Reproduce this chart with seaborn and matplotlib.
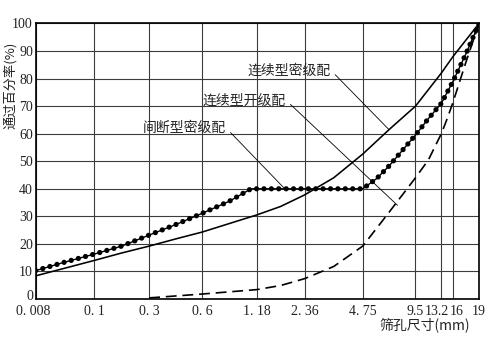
import numpy as np
import pandas as pd
import matplotlib
matplotlib.use("Agg")
import matplotlib.pyplot as plt
import matplotlib.transforms as mtransforms
import seaborn as sns

# Sieve sizes (mm) marked on the horizontal axis and their labels
sieve_sizes = [0.008, 0.1, 0.3, 0.6, 1.18, 2.36, 4.75, 9.5, 13.2, 16, 19]
sieve_labels = ["0. 008", "0. 1", "0. 3", "0. 6", "1. 18", "2. 36",
                "4. 75", "9.5", "13.2", "16", "19"]
pass_ticks = list(range(0, 101, 10))

# Continuous dense gradation (solid)
dense_size = [0.008, 0.0283, 0.1, 0.173, 0.3, 0.424, 0.6, 0.841, 1.18, 1.669,
              2.36, 3.348, 4.75, 6.717, 9.5, 11.2, 13.2, 14.53, 16, 17.43, 19]
dense_pass = [8.4, 11.2, 14.0, 16.7, 19.2, 21.8, 24.3, 27.4, 30.5, 33.6,
              37.8, 44.0, 52.6, 61.5, 70.0, 76.0, 82.0, 85.0, 88.0, 94.0, 100]

# Gap dense gradation (beaded line)
gap_size = [0.008, 0.0283, 0.1, 0.173, 0.3, 0.424, 0.6, 0.841, 1.1, 1.18,
            1.669, 2.36, 3.348, 4.75, 5.7, 6.717, 9.5, 11.2, 13.2, 14.53,
            16, 17.43, 19]
gap_pass = [10.3, 13.4, 16.3, 19.2, 23.2, 27.0, 31.1, 35.5, 40, 40,
            40, 40, 40, 40, 43.7, 48.3, 59.5, 65.5, 71.0, 75.0,
            79.0, 89.0, 100]

# Continuous open gradation (dashed)
open_size = [0.3, 0.424, 0.6, 0.841, 1.18, 1.669, 2.36, 3.348, 4.75, 6.717,
             9.5, 11.2, 13.2, 14.53, 16, 17.43, 19]
open_pass = [0.4, 1.1, 1.8, 2.6, 3.4, 4.9, 7.4, 11.8, 19.2, 31.5,
             44.0, 50.5, 60.0, 65.4, 71.4, 86.0, 100]

# Where each sieve sits along the axis (fraction of axis width)
sieve_frac = [0.0, 0.1322, 0.256, 0.3756, 0.4985, 0.6068, 0.7377,
              0.8567, 0.915, 0.9413, 1.0]

sns.set_style("white")
cjk = ["Noto Sans CJK SC", "DejaVu Sans"]
plt.rcParams["font.family"] = ["Liberation Serif", "DejaVu Sans"]

log_sizes = np.log(sieve_sizes)


def sieve_forward(x):
    x = np.clip(np.asarray(x, dtype=float), 1e-9, None)
    return np.interp(np.log(x), log_sizes, sieve_frac)


def sieve_inverse(p):
    return np.exp(np.interp(np.asarray(p, dtype=float), sieve_frac, log_sizes))


fig = plt.figure(figsize=(4.87, 3.38), dpi=100)
ax = fig.add_axes([0.0733, 0.1154, 0.9103, 0.8151])
ax.set_xscale("function", functions=(sieve_forward, sieve_inverse))

dense_df = pd.DataFrame({"size": dense_size, "pass": dense_pass})
gap_df = pd.DataFrame({"size": gap_size, "pass": gap_pass})
open_df = pd.DataFrame({"size": open_size, "pass": open_pass})

sns.lineplot(data=dense_df, x="size", y="pass", ax=ax, estimator=None,
             color="black", linewidth=1.15, zorder=4)
sns.lineplot(data=gap_df, x="size", y="pass", ax=ax, estimator=None,
             color="black", linewidth=1.0, zorder=5)
sns.lineplot(data=gap_df, x="size", y="pass", ax=ax, estimator=None,
             color="black", linewidth=3.8, linestyle=(0, (0.001, 1.4)),
             dash_capstyle="round", zorder=5)
sns.lineplot(data=open_df, x="size", y="pass", ax=ax, estimator=None,
             color="black", linewidth=1.2, linestyle=(0, (6.5, 3.5)), zorder=4)

ax.set_xlim(sieve_sizes[0], sieve_sizes[-1])
ax.set_ylim(0, 100)
ax.set_xticks(sieve_sizes)
ax.set_xticklabels(sieve_labels)
ax.xaxis.set_minor_locator(matplotlib.ticker.NullLocator())
ax.set_yticks(pass_ticks)
ax.set_yticklabels([str(v) for v in pass_ticks])
ax.tick_params(axis="both", length=0, labelsize=10, colors="#222222")
ax.tick_params(axis="x", pad=4)
ax.tick_params(axis="y", pad=2)
ax.set_xlabel("")
ax.set_ylabel("")

# Nudge the crowded labels apart
xlabels = ax.get_xticklabels()
xlabels[0].set_transform(xlabels[0].get_transform()
                         + mtransforms.ScaledTranslation(-2 / 72, 0, fig.dpi_scale_trans))
xlabels[8].set_transform(xlabels[8].get_transform()
                         + mtransforms.ScaledTranslation(-3 / 72, 0, fig.dpi_scale_trans))
xlabels[9].set_transform(xlabels[9].get_transform()
                         + mtransforms.ScaledTranslation(3 / 72, 0, fig.dpi_scale_trans))
ylabels = ax.get_yticklabels()
ylabels[0].set_transform(ylabels[0].get_transform()
                         + mtransforms.ScaledTranslation(0, 3 / 72, fig.dpi_scale_trans))

ax.grid(True, color="#3c3c3c", linewidth=0.8)
ax.set_axisbelow(True)
for sp in ax.spines.values():
    sp.set_visible(True)
    sp.set_color("black")
    sp.set_linewidth(1.2)

leader = dict(arrowstyle="-", color="black", lw=0.6, relpos=(1, 0.5),
              shrinkA=1, shrinkB=0)
ax.annotate("连续型密级配", xy=(6.7, 61.5), xycoords="data",
            xytext=(0.666, 0.830), textcoords="axes fraction",
            ha="right", va="center", fontsize=10, family=cjk,
            arrowprops=leader)
ax.annotate("连续型开级配", xy=(7.5, 34.0), xycoords="data",
            xytext=(0.565, 0.721), textcoords="axes fraction",
            ha="right", va="center", fontsize=10, family=cjk,
            arrowprops=leader)
ax.annotate("间断型密级配", xy=(1.77, 40.0), xycoords="data",
            xytext=(0.430, 0.620), textcoords="axes fraction",
            ha="right", va="center", fontsize=10, family=cjk,
            arrowprops=leader)

fig.text(0.021, 0.749, "通过百分率(%)", rotation=90, ha="center",
         va="center", fontsize=9.5, family=cjk, color="#222222")
fig.text(0.871, 0.038, "筛孔尺寸(mm)", ha="center", va="center",
         fontsize=10, family=cjk, color="#222222")

fig.savefig("out.png", dpi=100)
